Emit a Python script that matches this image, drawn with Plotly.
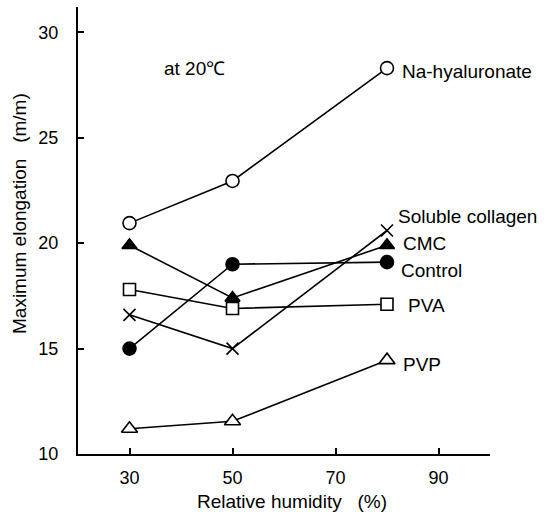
import plotly.graph_objects as go

humidity = [30, 50, 80]
na_hyaluronate = [20.95, 22.95, 28.3]
soluble_collagen = [16.6, 15.0, 20.6]
cmc = [19.9, 17.4, 19.9]
control = [15.0, 19.0, 19.1]
pva = [17.8, 16.9, 17.1]
pvp = [11.2, 11.55, 14.45]

# (name, values, symbol, fill, size)
series = [
    ("Na-hyaluronate", na_hyaluronate, "circle", "white", 13),
    ("Soluble collagen", soluble_collagen, "x-thin", "black", 12),
    ("CMC", cmc, "triangle-up", "black", 13),
    ("Control", control, "circle", "black", 13),
    ("PVA", pva, "square", "white", 12),
    ("PVP", pvp, "triangle-up", "white", 14),
]

labels = [
    ("Na-hyaluronate", 82.5, 28.15),
    ("Soluble collagen", 81.8, 21.25),
    ("CMC", 82.8, 20.0),
    ("Control", 82.3, 18.7),
    ("PVA", 83.6, 17.05),
    ("PVP", 82.8, 14.25),
]

FONT = "Liberation Sans, Arial, sans-serif"

fig = go.Figure()
for name, vals, sym, fill, size in series:
    fig.add_trace(go.Scatter(
        x=humidity, y=vals, mode="lines+markers", name=name,
        line=dict(color="black", width=1.6),
        marker=dict(symbol=sym, size=size, color=fill,
                    line=dict(color="black", width=1.6)),
        showlegend=False,
    ))

for name, x, y in labels:
    fig.add_annotation(x=x, y=y, text=name, showarrow=False, xanchor="left",
                       yanchor="middle", font=dict(size=19, color="black", family=FONT))

fig.add_annotation(x=36.3, y=28.3, text="at 20℃", showarrow=False, xanchor="left",
                   yanchor="middle", font=dict(size=19, color="black", family=FONT))

# axis titles as annotations for exact placement
fig.add_annotation(xref="paper", yref="paper", x=(292 - 78) / 412, y=(454 - 501) / 447,
                   text="Relative humidity   (%)", showarrow=False,
                   xanchor="center", yanchor="middle",
                   font=dict(size=19, color="black", family=FONT))
fig.add_annotation(xref="paper", yref="paper", x=(19 - 78) / 412, y=(454 - 214) / 447,
                   text="Maximum elongation   (m/m)", showarrow=False, textangle=-90,
                   xanchor="center", yanchor="middle",
                   font=dict(size=19, color="black", family=FONT))

axis_common = dict(showline=True, linecolor="black", linewidth=2, ticks="inside",
                   ticklen=6, tickcolor="black", tickwidth=1.5, showgrid=False,
                   zeroline=False, tickfont=dict(size=18, color="black", family=FONT))

fig.update_xaxes(range=[20, 100], tickvals=[30, 50, 70, 90],
                 ticklabelstandoff=6, **axis_common)
fig.update_yaxes(range=[10, 31.2], tickvals=[10, 15, 20, 25, 30],
                 ticklabelstandoff=14, **axis_common)

fig.update_layout(
    width=555, height=514,
    margin=dict(l=78, r=65, t=7, b=60),
    plot_bgcolor="white", paper_bgcolor="white",
    font=dict(family=FONT, color="black"),
)

fig.write_html("out.html")
